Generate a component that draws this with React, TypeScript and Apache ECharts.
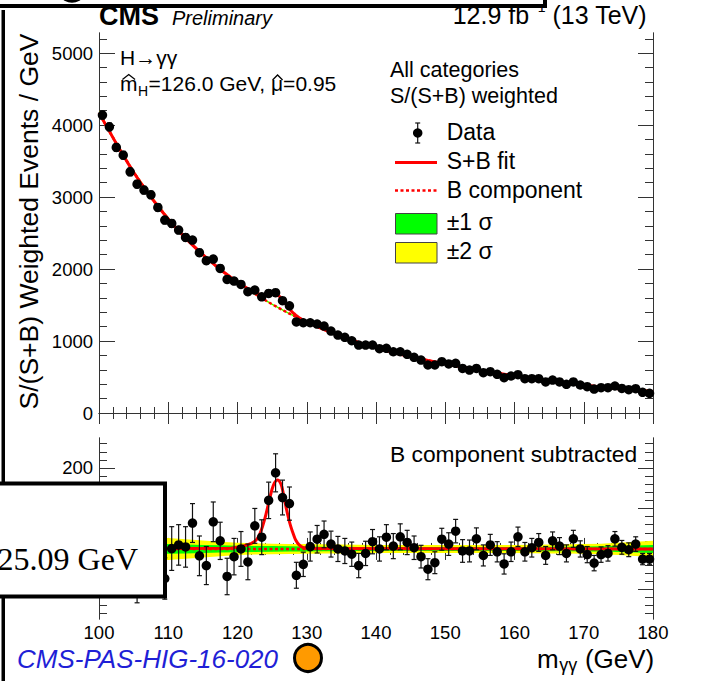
import React, { useEffect, useRef } from "react";
import * as echarts from "echarts";

// Bin centres of the 1 GeV diphoton mass bins
const binCenters = [
  100.5, 101.5, 102.5, 103.5, 104.5, 105.5, 106.5, 107.5, 108.5, 109.5,
  110.5, 111.5, 112.5, 113.5, 114.5, 115.5, 116.5, 117.5, 118.5, 119.5,
  120.5, 121.5, 122.5, 123.5, 124.5, 125.5, 126.5, 127.5, 128.5, 129.5,
  130.5, 131.5, 132.5, 133.5, 134.5, 135.5, 136.5, 137.5, 138.5, 139.5,
  140.5, 141.5, 142.5, 143.5, 144.5, 145.5, 146.5, 147.5, 148.5, 149.5,
  150.5, 151.5, 152.5, 153.5, 154.5, 155.5, 156.5, 157.5, 158.5, 159.5,
  160.5, 161.5, 162.5, 163.5, 164.5, 165.5, 166.5, 167.5, 168.5, 169.5,
  170.5, 171.5, 172.5, 173.5, 174.5, 175.5, 176.5, 177.5, 178.5, 179.5,
];

// S/(S+B) weighted events per GeV
const weightedEvents = [
  4139, 3976, 3690, 3583, 3351, 3180, 3097, 3032, 2857, 2680,
  2634, 2542, 2440, 2403, 2227, 2116, 2139, 2009, 1856, 1833,
  1787, 1685, 1708, 1615, 1662, 1671, 1560, 1490, 1266, 1254,
  1254, 1236, 1208, 1139, 1083, 1051, 1004, 944, 944, 944,
  893, 898, 851, 851, 815, 773, 736, 667, 667, 713,
  681, 690, 620, 597, 620, 560, 574, 537, 491, 514,
  532, 477, 477, 477, 431, 458, 431, 398, 431, 389,
  366, 333, 352, 352, 375, 342, 324, 338, 287, 273,
];

// Same events after subtracting the background component
const bkgSubtracted = [
  34, 56, -55, 3, -55, -80, -33, 37, -13, -73,
  1, 10, 5, 64, -17, -41, 67, 20, -68, -19,
  0, -32, 57, 29, 120, 188, 127, 112, -65, -38,
  6, 24, 36, 12, 0, -5, -13, -41, -11, 18,
  0, 29, 7, 30, 16, 3, -19, -50, -34, 24,
  12, 44, -5, -5, 25, -16, 10, -7, -37, -7,
  30, -7, 3, 16, -16, 20, 7, -11, 25, 0,
  -14, -35, -14, -11, 25, 4, -2, 12, -25, -25,
];

// Statistical uncertainty per bin
const statErrors = [
  55, 55, 55, 54, 54, 53, 53, 52, 52, 51,
  54, 50, 50, 48, 49, 47, 49, 46, 45, 45,
  43, 44, 43, 43, 45, 47, 43, 41, 32, 30,
  36, 34, 33, 32, 31, 31, 30, 30, 30, 30,
  30, 31, 31, 32, 30, 29, 28, 26, 27, 27,
  28, 29, 28, 27, 27, 26, 26, 25, 25, 24,
  24, 23, 23, 22, 22, 22, 21, 21, 21, 20,
  20, 19, 19, 19, 18, 17, 17, 18, 14, 14,
];

// Background component of the fit and its uncertainty bands
const bkgMass = [
  100, 102.5, 105, 107.5, 110, 112.5, 115, 117.5, 120, 122.5, 125, 127.5, 130,
  132.5, 135, 137.5, 140, 142.5, 145, 147.5, 150, 152.5, 155, 157.5, 160,
  162.5, 165, 167.5, 170, 172.5, 175, 177.5, 180,
];
const bkgFit = [
  4170, 3745, 3345, 3000, 2695, 2430, 2200, 1995, 1815, 1655, 1510, 1380, 1265,
  1160, 1065, 980, 905, 840, 782, 730, 683, 638, 595, 556, 518,
  483, 450, 418, 389, 362, 338, 317, 298,
];
const sigma1Width = [
  15, 14.5, 14, 13, 12, 11, 10, 9, 8, 7.5, 7, 6.5, 6,
  5.5, 5.5, 5, 5, 5, 5, 5, 5, 5, 5, 5, 5,
  5, 5.5, 5.5, 6, 6.5, 7.5, 8.5, 10,
];
const sigma2Width = [
  32, 30, 29, 28, 27, 24, 21, 18, 15, 14, 13, 12.5, 12,
  11.5, 11, 10.5, 10, 10, 10, 10, 10, 10, 10, 10, 10,
  10.5, 11, 11.5, 12, 13, 15, 17.5, 20,
];

// Signal+background fit around the peak
const peakMass = [
  119, 120, 121, 122, 122.7, 123.2, 123.6, 124.1, 124.6, 125.0, 125.3, 125.6,
  125.8, 126.1, 126.4, 126.7, 127.0, 127.4, 127.7, 128.1, 128.4, 128.9, 129.4,
  130, 131,
];
const signalFit = [
  2, 4, 8, 14, 22, 36, 55, 85, 121, 148, 162, 169,
  170, 166, 154, 130, 104, 74, 55, 35, 22, 10, 4,
  2, 1,
];
const sbFitPeak = [
  1887, 1819, 1758, 1700, 1665, 1650, 1646, 1647, 1654, 1658, 1656, 1647,
  1637, 1617, 1590, 1550, 1509, 1459, 1425, 1386, 1359, 1325, 1296,
  1267, 1224,
];

// Axis ticks and their labels
const upperMajorTicks = [0, 1000, 2000, 3000, 4000, 5000];
const upperMinorTicks = [
  200, 400, 600, 800, 1200, 1400, 1600, 1800, 2200, 2400, 2600, 2800,
  3200, 3400, 3600, 3800, 4200, 4400, 4600, 4800, 5200,
];
const lowerMajorTicks = [-100, 0, 100, 200];
const lowerTickLabels = [200];
const lowerMinorTicks = [
  -160, -140, -120, -80, -60, -40, -20, 20, 40, 60, 80, 120, 140, 160, 180,
  220, 240, 260,
];

const FONT = '"Liberation Sans", Arial, Helvetica, sans-serif';
const SERIF = '"Liberation Serif", "Times New Roman", serif';
const AXIS_COLOR = "#333";
const RED = "#ff0000";

function xAxes(grid: number, showLabels: boolean) {
  const base = {
    type: "value",
    gridIndex: grid,
    min: 100,
    max: 180,
    interval: 10,
    axisLine: { show: true, lineStyle: { color: AXIS_COLOR, width: 1 } },
    axisTick: { show: true, inside: true, length: 11, lineStyle: { color: AXIS_COLOR } },
    minorTick: { show: true, splitNumber: 5, length: 6, lineStyle: { color: AXIS_COLOR } },
    splitLine: { show: false },
    minorSplitLine: { show: false },
  };
  return [
    {
      ...base,
      position: "bottom",
      axisLabel: {
        show: showLabels,
        color: "#000",
        fontSize: 18.5,
        fontFamily: FONT,
        margin: 4,
        formatter: (v: number) => String(v),
      },
    },
    { ...base, position: "top", axisLabel: { show: false } },
  ];
}

function yAxes(
  grid: number,
  min: number,
  max: number,
  major: number[],
  minor: number[],
  labels: number[]
) {
  const mk = (position: string, values: number[], len: number, withLabels: boolean) => ({
    type: "value",
    gridIndex: grid,
    min,
    max,
    position,
    splitLine: { show: false },
    axisLine: { show: true, lineStyle: { color: AXIS_COLOR, width: 1 } },
    axisTick: {
      show: true,
      inside: true,
      length: len,
      customValues: values,
      lineStyle: { color: AXIS_COLOR },
    },
    axisLabel: withLabels
      ? {
          show: true,
          customValues: labels,
          color: "#000",
          fontSize: 18.5,
          fontFamily: FONT,
          margin: 6,
          formatter: (v: number) => String(v),
        }
      : { show: false },
  });
  return [
    mk("left", major, 16, true),
    mk("left", minor, 8, false),
    mk("right", major, 15, false),
    mk("right", minor, 8, false),
  ];
}

function bandSeries(xi: number, yi: number, center: number[], width: number[], color: string, z: number) {
  return {
    type: "custom",
    xAxisIndex: xi,
    yAxisIndex: yi,
    z,
    silent: true,
    data: [[140, center[16]]],
    encode: { x: 0, y: 1 },
    renderItem: (_p: any, api: any) => {
      const upper = bkgMass.map((m, i) => api.coord([m, center[i] + width[i]]));
      const lower = bkgMass.map((m, i) => api.coord([m, center[i] - width[i]])).reverse();
      return { type: "polygon", shape: { points: upper.concat(lower) }, style: { fill: color } };
    },
  };
}

function errorBarSeries(xi: number, yi: number, values: number[]) {
  return {
    type: "custom",
    xAxisIndex: xi,
    yAxisIndex: yi,
    z: 5,
    silent: true,
    data: binCenters.map((m, i) => [m, values[i], statErrors[i]]),
    encode: { x: 0, y: 1 },
    renderItem: (_p: any, api: any) => {
      const m = api.value(0);
      const v = api.value(1);
      const e = api.value(2);
      const hi = api.coord([m, v + e]);
      const lo = api.coord([m, v - e]);
      const cap = 2.5;
      const st = { stroke: "#111", lineWidth: 1.2 };
      return {
        type: "group",
        children: [
          { type: "line", shape: { x1: hi[0], y1: hi[1], x2: lo[0], y2: lo[1] }, style: st },
          { type: "line", shape: { x1: hi[0] - cap, y1: hi[1], x2: hi[0] + cap, y2: hi[1] }, style: st },
          { type: "line", shape: { x1: lo[0] - cap, y1: lo[1], x2: lo[0] + cap, y2: lo[1] }, style: st },
        ],
      };
    },
  };
}

function pointSeries(xi: number, yi: number, values: number[]) {
  return {
    type: "scatter",
    xAxisIndex: xi,
    yAxisIndex: yi,
    z: 6,
    silent: true,
    symbol: "circle",
    symbolSize: 9.5,
    itemStyle: { color: "#000", opacity: 1, borderWidth: 0 },
    data: binCenters.map((m, i) => [m, values[i]]),
  };
}

function lineSeries(xi: number, yi: number, data: number[][], dashed: boolean, z: number) {
  return {
    type: "line",
    xAxisIndex: xi,
    yAxisIndex: yi,
    z,
    silent: true,
    symbol: "none",
    showSymbol: false,
    smooth: dashed ? false : 0.25,
    lineStyle: dashed ? { color: RED, width: 2.5, type: [3, 2.5] } : { color: RED, width: 3 },
    data,
  };
}

function text(x: number, y: number, str: string, size: number, extra: any = {}) {
  return {
    type: "text",
    x,
    y,
    z: 50,
    silent: true,
    style: {
      text: str,
      fontSize: size,
      fontFamily: FONT,
      fill: "#000",
      align: "left",
      verticalAlign: "middle",
      ...extra,
    },
  };
}

function buildOption() {
  const ctx = document.createElement("canvas").getContext("2d")!;
  const measure = (s: string, size: number, style = "") => {
    ctx.font = `${style} ${size}px ${FONT}`;
    return ctx.measureText(s).width;
  };

  const graphics: any[] = [];

  // Header
  graphics.push(text(99, 15.5, "CMS", 27, { fontWeight: "bold" }));
  graphics.push(text(172, 18, "Preliminary", 20, { fontStyle: "italic" }));
  const lumiRight = 647;
  const lumiTail = " (13 TeV)";
  const wTail = measure(lumiTail, 25);
  const xTail = lumiRight - wTail;
  const wSup = measure("\u22121", 14);
  const xSup = xTail - wSup;
  graphics.push(text(xTail, 15.3, lumiTail, 25));
  graphics.push(text(xSup, 7, "\u22121", 14));
  graphics.push(text(xSup - 0.5, 15.3, "12.9 fb", 25, { align: "right" }));

  // Y axis title
  graphics.push({
    type: "text",
    x: 28.7,
    y: 221.5,
    rotation: Math.PI / 2,
    z: 50,
    silent: true,
    style: {
      text: "S/(S+B) Weighted Events / GeV",
      fontSize: 26.5,
      fontFamily: FONT,
      fill: "#000",
      align: "center",
      verticalAlign: "middle",
    },
  });

  // Process label and best-fit values
  graphics.push(text(120, 57.6, "H\u2192\u03b3\u03b3", 21));
  const fs = 21;
  const mid = 90.7 - 0.35 * fs;
  const x0 = 120;
  const wm = measure("m", fs);
  const wH = measure("H", 14);
  const x2 = x0 + wm + wH + 1;
  const s2 = "=126.0 GeV, ";
  const xMu = x2 + measure(s2, fs);
  const wMu = measure("\u03bc", fs);
  graphics.push(text(x0, mid, "m", fs));
  graphics.push(text(x0 + wm + 0.5, 90.6, "H", 14));
  graphics.push(text(x2, mid, s2, fs));
  graphics.push(text(xMu, mid, "\u03bc", fs));
  graphics.push(text(xMu + wMu, mid, "=0.95", fs));
  const hat = (cx: number, half: number, top: number, base: number) => ({
    type: "polyline",
    z: 50,
    silent: true,
    shape: { points: [[cx - half, base], [cx, top], [cx + half, base]] },
    style: { stroke: "#000", lineWidth: 1.3, fill: null },
  });
  graphics.push(hat(x0 + wm / 2, 6.3, 74.5, 79.5));
  graphics.push(hat(xMu + wMu / 2 + 0.5, 5, 75, 80));

  // Legend
  graphics.push(text(390, 69.5, "All categories", 21.5));
  graphics.push(text(390, 95.5, "S/(S+B) weighted", 21.5));
  const lx = 446.7;
  graphics.push(text(lx, 132, "Data", 23));
  graphics.push(text(lx, 161.3, "S+B fit", 23));
  graphics.push(text(lx, 190, "B component", 23));
  graphics.push(text(lx, 222, "\u00b11 \u03c3", 23));
  graphics.push(text(lx, 251, "\u00b12 \u03c3", 23));
  const st = { stroke: "#111", lineWidth: 1.2 };
  graphics.push({ type: "line", z: 50, shape: { x1: 417.7, y1: 123, x2: 417.7, y2: 143 }, style: st });
  graphics.push({ type: "line", z: 50, shape: { x1: 415.2, y1: 123, x2: 420.2, y2: 123 }, style: st });
  graphics.push({ type: "line", z: 50, shape: { x1: 415.2, y1: 143, x2: 420.2, y2: 143 }, style: st });
  graphics.push({ type: "circle", z: 51, shape: { cx: 417.7, cy: 133, r: 4.75 }, style: { fill: "#000" } });
  graphics.push({
    type: "line",
    z: 50,
    shape: { x1: 395, y1: 162.5, x2: 437, y2: 162.5 },
    style: { stroke: RED, lineWidth: 3 },
  });
  graphics.push({
    type: "line",
    z: 50,
    shape: { x1: 395, y1: 190.5, x2: 437, y2: 190.5 },
    style: { stroke: RED, lineWidth: 2.5, lineDash: [3, 2.5] },
  });
  graphics.push({
    type: "rect",
    z: 50,
    shape: { x: 395.5, y: 213.5, width: 41.5, height: 20.5 },
    style: { fill: "#00ff00", stroke: "#444", lineWidth: 1 },
  });
  graphics.push({
    type: "rect",
    z: 50,
    shape: { x: 395.5, y: 242.5, width: 41.5, height: 20.5 },
    style: { fill: "#ffff00", stroke: "#444", lineWidth: 1 },
  });

  // Lower panel label and x axis title
  graphics.push(text(390, 453.7, "B component subtracted", 22.8));
  const wmx = measure("m", 26);
  const wgg = measure("\u03b3\u03b3", 18);
  graphics.push(text(537, 659, "m", 26));
  graphics.push(text(537 + wmx + 0.5, 664.7, "\u03b3\u03b3", 18));
  graphics.push(text(537 + wmx + wgg + 1, 659, " (GeV)", 26));

  // Reference label
  graphics.push(
    text(17, 659, "CMS-PAS-HIG-16-020", 26, { fontStyle: "italic", fill: "#1f1fd6" })
  );

  // Annotation boxes and markers drawn over the figure
  graphics.push({
    type: "rect",
    z: 100,
    silent: true,
    shape: { x: -10, y: -40, width: 555, height: 46 },
    style: { fill: "#fff", stroke: "#000", lineWidth: 4 },
  });
  graphics.push({
    type: "circle",
    z: 101,
    silent: true,
    shape: { cx: 72, cy: -12.3, r: 13.5 },
    style: { fill: "#ff9a00", stroke: "#000", lineWidth: 3 },
  });
  graphics.push({
    type: "rect",
    z: 100,
    silent: true,
    shape: { x: 1.5, y: 10, width: 3.5, height: 680 },
    style: { fill: "#000" },
  });
  graphics.push({
    type: "rect",
    z: 102,
    silent: true,
    shape: { x: -10, y: 483.5, width: 175, height: 113 },
    style: { fill: "#fff", stroke: "#000", lineWidth: 4 },
  });
  graphics.push({
    type: "text",
    x: 138,
    y: 559,
    z: 103,
    silent: true,
    style: {
      text: "125.09 GeV",
      fontSize: 32,
      fontFamily: SERIF,
      fill: "#000",
      align: "right",
      verticalAlign: "middle",
    },
  });
  graphics.push({
    type: "circle",
    z: 103,
    silent: true,
    shape: { cx: 308, cy: 658, r: 13.5 },
    style: { fill: "#ff9a00", stroke: "#000", lineWidth: 3 },
  });

  // Fit curves assembled from background and peak readings
  const upperSB: number[][] = [];
  bkgMass.forEach((m, i) => {
    if (m < peakMass[0]) upperSB.push([m, bkgFit[i]]);
  });
  peakMass.forEach((m, i) => upperSB.push([m, sbFitPeak[i]]));
  bkgMass.forEach((m, i) => {
    if (m > peakMass[peakMass.length - 1]) upperSB.push([m, bkgFit[i]]);
  });
  const upperB = bkgMass.map((m, i) => [m, bkgFit[i]]);
  const zeroLine = bkgMass.map(() => 0);
  const lowerSB: number[][] = [[100, 0]];
  peakMass.forEach((m, i) => lowerSB.push([m, signalFit[i]]));
  lowerSB.push([180, 0]);
  const lowerB = [[100, 0], [180, 0]];

  return {
    animation: false,
    backgroundColor: "#fff",
    grid: [
      { left: 99, top: 33, width: 554, height: 380, outerBoundsMode: "none", containLabel: false },
      { left: 99, top: 438, width: 554, height: 181, outerBoundsMode: "none", containLabel: false },
    ],
    xAxis: [...xAxes(0, false), ...xAxes(1, true)],
    yAxis: [
      ...yAxes(0, 0, 5280, upperMajorTicks, upperMinorTicks, upperMajorTicks),
      ...yAxes(1, -173, 274, lowerMajorTicks, lowerMinorTicks, lowerTickLabels),
    ],
    series: [
      bandSeries(0, 0, bkgFit, sigma2Width, "#ffff00", 1),
      bandSeries(0, 0, bkgFit, sigma1Width, "#00ff00", 2),
      lineSeries(0, 0, upperB, true, 3),
      lineSeries(0, 0, upperSB, false, 4),
      errorBarSeries(0, 0, weightedEvents),
      pointSeries(0, 0, weightedEvents),

      bandSeries(2, 4, zeroLine, sigma2Width, "#ffff00", 1),
      bandSeries(2, 4, zeroLine, sigma1Width, "#00ff00", 2),
      lineSeries(2, 4, lowerB, true, 3),
      lineSeries(2, 4, lowerSB, false, 4),
      errorBarSeries(2, 4, bkgSubtracted),
      pointSeries(2, 4, bkgSubtracted),
    ],
    graphic: { elements: graphics },
  };
}

export default function App() {
  const ref = useRef<HTMLDivElement>(null);
  useEffect(() => {
    document.body.style.margin = "0";
    const chart = echarts.init(ref.current!, null, { renderer: "svg", width: 720, height: 681 });
    chart.setOption(buildOption() as any);
    return () => chart.dispose();
  }, []);
  return <div ref={ref} style={{ width: 720, height: 681 }} />;
}
